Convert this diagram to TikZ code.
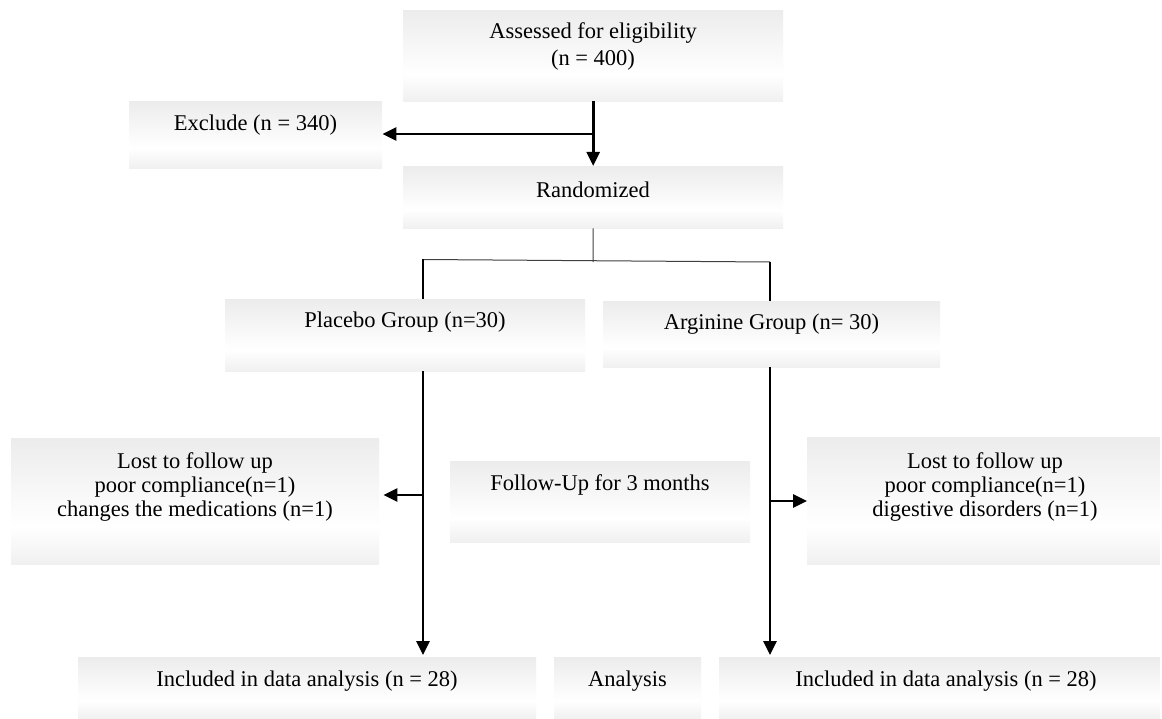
\documentclass[tikz,border=0pt]{standalone}
\usepackage{fontspec}
\setmainfont{Liberation Serif}
\usetikzlibrary{arrows.meta}
\definecolor{boxgraytop}{RGB}{236,236,236}
\definecolor{boxgraybot}{RGB}{240,240,240}
\pgfdeclareverticalshading{boxshade}{100bp}{color(0bp)=(boxgraybot); color(25bp)=(boxgraybot); color(40bp)=(white); color(75bp)=(boxgraytop); color(100bp)=(boxgraytop)}
\begin{document}
\begin{tikzpicture}[x=1pt,y=-1pt,
  box/.style={rectangle, draw=none, shading=boxshade, inner sep=0pt, anchor=north west},
  txt/.style={font=\fontsize{22.5}{24}\selectfont, align=center, inner sep=0pt},
  arr/.style={line width=2.8pt, -{Triangle[length=14pt,width=13pt]}},
  thickline/.style={line width=2.8pt},
  thinline/.style={line width=1pt, draw=black!75}]
\useasboundingbox[fill=white] (0,0) rectangle (1162,719);

% boxes
\node[box, minimum width=380pt, minimum height=91pt] (assess) at (403,10) {};
\node[box, minimum width=253pt, minimum height=67pt] (excl) at (129,101) {};
\node[box, minimum width=380pt, minimum height=62pt] (rand) at (403,166) {};
\node[box, minimum width=360pt, minimum height=72pt] (plac) at (225,299) {};
\node[box, minimum width=337pt, minimum height=66pt] (argi) at (603,301) {};
\node[box, minimum width=368pt, minimum height=126pt] (lostL) at (11,438) {};
\node[box, minimum width=300pt, minimum height=81pt] (follow) at (450,461) {};
\node[box, minimum width=353pt, minimum height=127pt] (lostR) at (807,437) {};
\node[box, minimum width=458pt, minimum height=62pt] (inclL) at (78,657) {};
\node[box, minimum width=147pt, minimum height=62pt] (anal) at (554,657) {};
\node[box, minimum width=441pt, minimum height=62pt] (inclR) at (719,657) {};

% texts
\node[txt] (assessT) at (593,46.5) {Assessed for eligibility\\[3pt](n = 400)};
\node[txt] (exclT) at (255.5,125) {Exclude (n = 340)};
\node[txt] (randT) at (593,190) {Randomized};
\node[txt] (placT) at (405,322) {Placebo Group (n=30)};
\node[txt] (argiT) at (771.5,324) {Arginine Group (n= 30)};
\node[txt] (lostLT) at (195,487) {Lost to follow up\\poor compliance(n=1)\\changes the medications (n=1)};
\node[txt] (followT) at (600,485) {Follow-Up for 3 months};
\node[txt] (lostRT) at (985,487) {Lost to follow up\\poor compliance(n=1)\\digestive disorders (n=1)};
\node[txt] (inclLT) at (307,681) {Included in data analysis (n = 28)};
\node[txt] (analT) at (627.5,681) {Analysis};
\node[txt] (inclRT) at (946,681) {Included in data analysis (n = 28)};

% junction coordinates
\coordinate (jEx) at (593,134);
\coordinate (jR) at (593,262);
\coordinate (splitL) at (423,259.5);
\coordinate (splitR) at (770,262);
\coordinate (jL) at (423,495);
\coordinate (jRR) at (770,501);

% connectors
\draw[arr] (assess.south) -- (rand.north);
\draw[arr] (jEx) -- (excl.east |- jEx);
\draw[thinline] (rand.south) -- (jR);
\draw[thinline] (splitL) -- (splitR);
\draw[thickline] (splitL) -- (splitL |- plac.north);
\draw[thickline] (splitR) -- (splitR |- argi.north);
\draw[arr] (splitL |- plac.south) -- ([yshift=2pt]splitL |- inclL.north);
\draw[arr] (splitR |- argi.south) -- ([yshift=2pt]splitR |- inclR.north);
\draw[arr] (jL) -- ([xshift=4pt]lostL.east |- jL);
\draw[arr] (jRR) -- (lostR.west |- jRR);
\end{tikzpicture}
\end{document}
